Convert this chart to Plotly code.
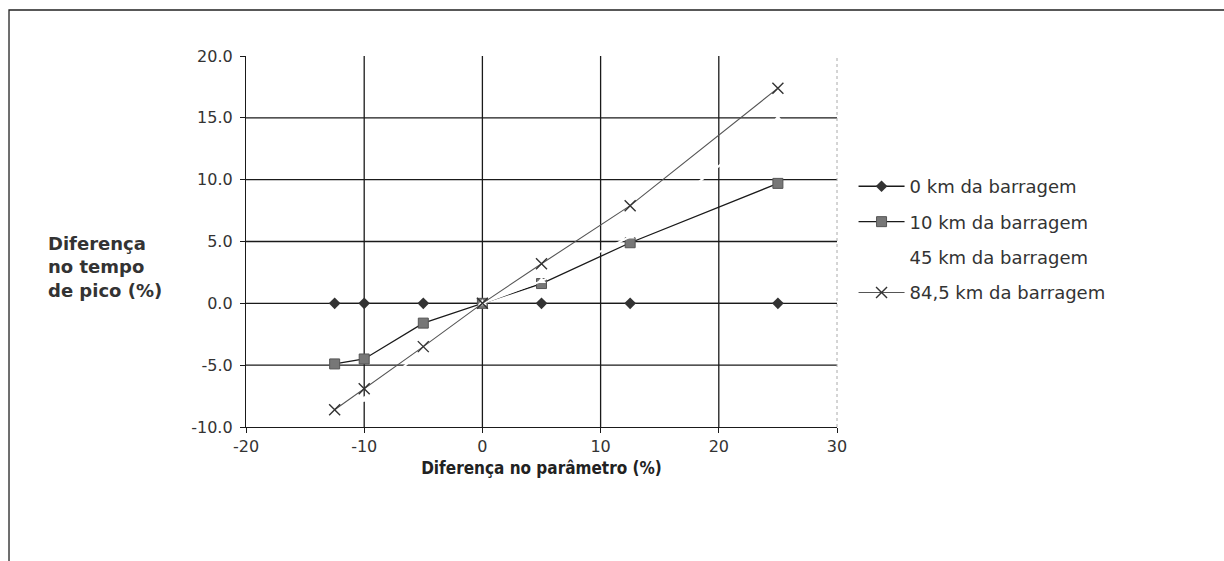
import plotly.graph_objects as go

# Variation of the parameter (%)
param_diff = [-12.5, -10, -5, 0, 5, 12.5, 25]

# Difference in peak time (%) at each station
km0 = [0.0, 0.0, 0.0, 0.0, 0.0, 0.0, 0.0]
km10 = [-4.9, -4.5, -1.6, 0.0, 1.6, 4.9, 9.7]
km45 = [-9.6, -7.8, -3.8, 0.0, 1.8, 5.4, 14.9]
km84 = [-8.6, -6.9, -3.5, 0.0, 3.2, 7.9, 17.4]

series_names = ["0 km da barragem", "10 km da barragem",
                "45 km da barragem", "84,5 km da barragem"]

x_ticks = [-20, -10, 0, 10, 20, 30]
y_ticks = [-10, -5, 0, 5, 10, 15, 20]
x_grid = [-10, 0, 10, 20]
y_grid = [-5, 0, 5, 10, 15]

FONT = "DejaVu Sans, Verdana, sans-serif"
NARROW = "Liberation Sans Narrow, DejaVu Sans Condensed, Arial Narrow, sans-serif"

fig = go.Figure()

fig.add_trace(go.Scatter(
    x=param_diff, y=km0, name=series_names[0], mode="lines+markers",
    line=dict(color="#1a1a1a", width=1.3),
    marker=dict(symbol="diamond", size=9, color="#333333"),
    legendgroup="a"))
fig.add_trace(go.Scatter(
    x=param_diff, y=km10, name=series_names[1], mode="lines+markers",
    line=dict(color="#1a1a1a", width=1.3),
    marker=dict(symbol="square", size=10, color="#777777",
                line=dict(color="#555555", width=1)),
    legendgroup="b"))
fig.add_trace(go.Scatter(
    x=param_diff, y=km45, name=series_names[2], mode="lines+markers",
    line=dict(color="#ffffff", width=2),
    marker=dict(symbol="triangle-up", size=8, color="#ffffff"),
    legendgroup="c"))
fig.add_trace(go.Scatter(
    x=param_diff, y=km84, name=series_names[3], mode="lines+markers",
    line=dict(color="#555555", width=1.1),
    marker=dict(symbol="x-thin", size=11, color="#333333",
                line=dict(color="#333333", width=1.4)),
    legendgroup="d"))

shapes = []
for gx in x_grid:
    shapes.append(dict(type="line", xref="x", yref="paper", x0=gx, x1=gx,
                       y0=0, y1=1, layer="below",
                       line=dict(color="#1a1a1a", width=1.3)))
for gy in y_grid:
    shapes.append(dict(type="line", xref="paper", yref="y", x0=0, x1=1,
                       y0=gy, y1=gy, layer="below",
                       line=dict(color="#1a1a1a", width=1.3)))
# faint right edge of the plot area
shapes.append(dict(type="line", xref="paper", yref="paper", x0=1, x1=1,
                   y0=0, y1=1, layer="below",
                   line=dict(color="#aaaaaa", width=1, dash="dot")))
# outer frame around the chart
shapes.append(dict(type="rect", xref="paper", yref="paper",
                   x0=-0.401, x1=1.7, y0=-0.5, y1=1.124,
                   line=dict(color="#222222", width=1.3)))

fig.update_layout(
    width=1224, height=561,
    margin=dict(l=246, r=387, t=56, b=134),
    paper_bgcolor="white", plot_bgcolor="white",
    font=dict(family=FONT, size=16, color="#333333"),
    shapes=shapes,
    showlegend=True,
    legend=dict(x=1.028, y=0.698, xanchor="left", yanchor="top",
                font=dict(family=FONT, size=18, color="#333333"),
                tracegroupgap=9, itemwidth=46,
                bgcolor="rgba(0,0,0,0)"),
    xaxis=dict(range=[-20, 30], tickvals=x_ticks,
               ticktext=[f"{v:d}" for v in x_ticks], showgrid=False,
               zeroline=False, showline=True, linecolor="#1a1a1a",
               linewidth=1.3, ticks="outside", ticklen=5,
               tickcolor="#1a1a1a",
               tickfont=dict(family=FONT, size=16, color="#333333"),
               title=dict(text="<b>Diferença no parâmetro (%)</b>",
                          font=dict(family=NARROW, size=17, color="#222222"),
                          standoff=6)),
    yaxis=dict(range=[-10, 20], tickvals=y_ticks,
               ticktext=[f"{v:.1f}" for v in y_ticks],
               showgrid=False, zeroline=False, showline=True,
               linecolor="#1a1a1a", linewidth=1.3, ticks="outside",
               ticklen=5, tickcolor="#1a1a1a", ticklabelstandoff=4,
               tickfont=dict(family=FONT, size=16, color="#333333")),
    annotations=[dict(
        text="<b>Diferença<br>no tempo<br>de pico (%)</b>",
        xref="paper", yref="paper", x=-0.338, y=0.43,
        xanchor="left", yanchor="middle", align="left", showarrow=False,
        font=dict(family=FONT, size=18, color="#333333"))],
)

fig.write_html("out.html")
